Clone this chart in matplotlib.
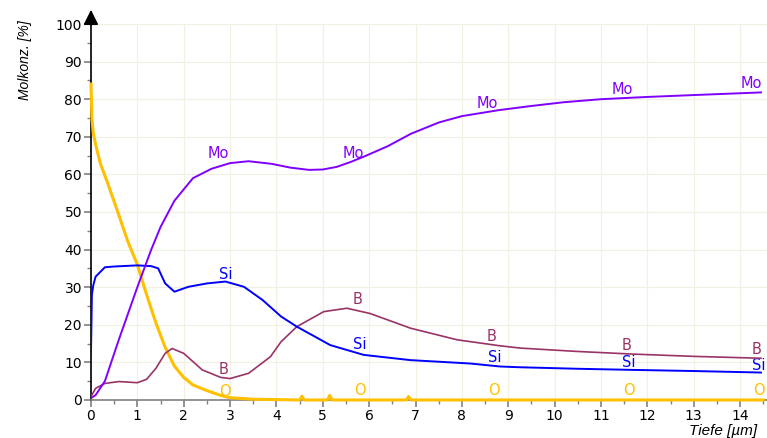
import numpy as np
import matplotlib.pyplot as plt

plt.rcParams['font.family'] = ['DejaVu Sans']

# depth [um] and concentration [%]
mo_x = [0, 0.1, 0.3, 0.6, 1.0, 1.3, 1.5, 1.8, 2.2, 2.6, 3.0, 3.4, 3.9, 4.3, 4.7, 5.0, 5.3,
        5.6, 5.9, 6.4, 6.9, 7.5, 8.0, 8.8, 9.5, 10.2, 11.0, 12.0, 13.0, 14.45]
mo_y = [0.5, 1.3, 5, 16, 30, 40, 46, 53, 59, 61.5, 63, 63.5, 62.8, 61.8, 61.2, 61.3, 62,
        63.3, 64.8, 67.5, 70.8, 73.8, 75.5, 77.1, 78.2, 79.2, 80, 80.6, 81.1, 81.8]

si_x = [0, 0.02, 0.05, 0.1, 0.3, 0.5, 1.0, 1.3, 1.45, 1.6, 1.8, 2.1, 2.5, 2.9, 3.3, 3.7,
        4.1, 4.44, 5.16, 5.88, 6.89, 8.18, 8.83, 9.26, 10.5, 11.7, 13.0, 14.45]
si_y = [12.5, 28, 30.5, 32.8, 35.3, 35.5, 35.8, 35.6, 35, 31, 28.8, 30.1, 31, 31.5, 30.1, 26.6,
        22.2, 19.5, 14.6, 12, 10.6, 9.7, 8.9, 8.7, 8.3, 8, 7.7, 7.3]

b_x = [0, 0.1, 0.3, 0.6, 1.0, 1.2, 1.4, 1.6, 1.75, 2.0, 2.4, 2.8, 3.0, 3.4, 3.87, 4.1,
       4.44, 5.02, 5.52, 6.02, 6.89, 7.9, 8.83, 9.26, 10.5, 11.7, 13.0, 14.45]
b_y = [0.9, 3.1, 4.4, 4.9, 4.6, 5.5, 8.4, 12.4, 13.7, 12.4, 8, 6, 5.7, 7.1, 11.5, 15.5,
       19.5, 23.5, 24.4, 23, 19.1, 16, 14.4, 13.8, 12.9, 12.2, 11.6, 11.1]

o_x = [0, 0.01, 0.02, 0.05, 0.1, 0.2, 0.35, 0.55, 0.8, 1.0, 1.2, 1.4, 1.6, 1.8, 2.0, 2.2,
       2.5, 2.8, 3.0, 3.5, 4.0, 4.5, 4.55, 4.6, 5.1, 5.15, 5.2, 6.8, 6.85, 6.9, 14.5]
o_y = [84, 80, 75, 71, 68, 63, 58, 51, 42, 36, 28, 20.5, 14, 9, 6, 4,
       2.5, 1.2, 0.6, 0.2, 0.1, 0, 1.0, 0, 0, 1.2, 0, 0, 0.9, 0, 0]

# curve labels
lab_x = [2.9, 5.8, 8.7, 11.6, 14.4]
mo_lab_y = [65.5, 65.5, 78.8, 82.7, 84.3]
si_lab_y = [33.3, 14.7, 11.3, 10.1, 9.3]
b_lab_y = [8.2, 26.6, 16.8, 14.4, 13.3]
o_lab_y = [2.2, 2.5, 2.5, 2.5, 2.5]

c_mo = '#8000ff'
c_si = '#0000ff'
c_b = '#993366'
c_o = '#ffc000'

fig = plt.figure(figsize=(7.67, 4.38), dpi=100)
ax = fig.add_axes([0.1186, 0.0868, 0.8814, 0.8584])

ax.plot(o_x, o_y, color=c_o, lw=2.2, clip_on=False, zorder=3)
ax.plot(b_x, b_y, color=c_b, lw=1.2, zorder=4)
ax.plot(si_x, si_y, color=c_si, lw=1.4, zorder=5)
ax.plot(mo_x, mo_y, color=c_mo, lw=1.4, zorder=6)

for i in range(len(lab_x)):
    ax.text(lab_x[i] - 0.15, mo_lab_y[i], 'Mo', color=c_mo, fontsize=10.5, ha='center', va='center')
    ax.text(lab_x[i], si_lab_y[i], 'Si', color=c_si, fontsize=10.5, ha='center', va='center')
    ax.text(lab_x[i] - 0.05, b_lab_y[i], 'B', color=c_b, fontsize=10.5, ha='center', va='center')
    ax.text(lab_x[i], o_lab_y[i], 'O', color=c_o, fontsize=10.5, ha='center', va='center')

ax.set_xlim(0, 14.58)
ax.set_ylim(0, 100)
ax.set_xticks(np.arange(0, 15, 1))
ax.set_xticks(np.arange(0, 14.6, 0.5), minor=True)
ax.set_yticks(np.arange(0, 101, 10))
ax.set_yticks(np.arange(0, 101, 5), minor=True)
ax.tick_params(which='both', color='#808080', labelsize=10, direction='out')
ax.tick_params(which='major', length=5, width=1.2, pad=1.5)
ax.tick_params(which='minor', length=3, width=1)
ax.grid(True, which='major', color='#f2f0e2', lw=0.9)
ax.set_axisbelow(True)

for s in ['top', 'right']:
    ax.spines[s].set_visible(False)
ax.spines['bottom'].set_color('#808080')
ax.spines['bottom'].set_linewidth(1.2)
ax.spines['left'].set_color('black')
ax.spines['left'].set_linewidth(1.2)

# arrow on top of y axis
ax.annotate('', xy=(0, 1.045), xytext=(0, 0.99), xycoords='axes fraction',
            arrowprops=dict(arrowstyle='-|>,head_width=0.45,head_length=0.9', color='black', lw=1.2),
            annotation_clip=False)

fig.text(0.033, 0.863, 'Molkonz. [%]', rotation=90, style='italic', fontsize=10,
         family='Liberation Sans', ha='center', va='center')
fig.text(0.987, 0.0, 'Tiefe [µm]', style='italic', fontsize=11,
         family='Liberation Sans', ha='right', va='bottom')

fig.savefig('out.png', dpi=100)
